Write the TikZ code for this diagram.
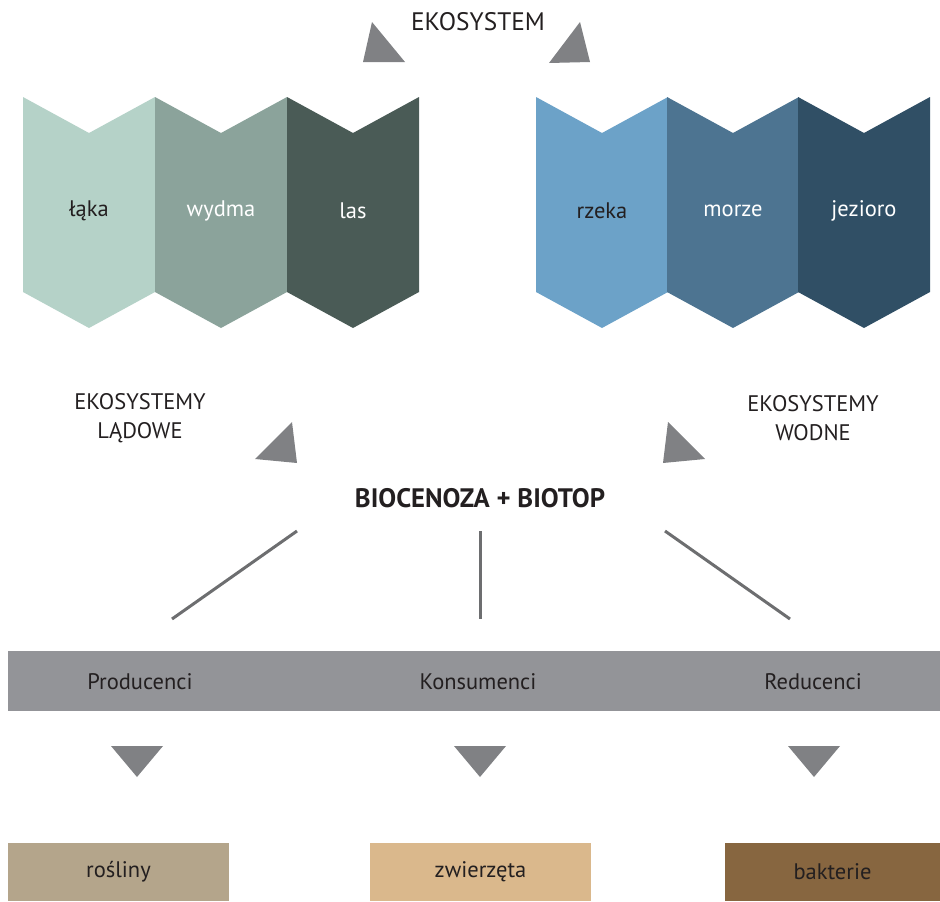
\documentclass[tikz,border=0pt]{standalone}
\usepackage{fontspec}
\setmainfont{PT Sans}
\definecolor{laka}{HTML}{B5D2C8}
\definecolor{wydma}{HTML}{8BA39B}
\definecolor{las}{HTML}{4A5B56}
\definecolor{rzeka}{HTML}{6CA2C8}
\definecolor{morze}{HTML}{4D7491}
\definecolor{jezioro}{HTML}{304F65}
\definecolor{grot}{HTML}{808184}
\definecolor{pasek}{HTML}{939498}
\definecolor{linia}{HTML}{6D6E70}
\definecolor{tekst}{HTML}{231F20}
\definecolor{rosliny}{HTML}{B4A58B}
\definecolor{zwierzeta}{HTML}{DAB88C}
\definecolor{bakterie}{HTML}{876640}
\tikzset{
  napis/.style={text=tekst, font=\fontsize{16}{21}\selectfont, align=center},
  pole/.style={napis, minimum height=58*0.025cm, inner sep=0pt}
}
\begin{document}
\begin{tikzpicture}[x=0.025cm, y=-0.025cm]
    \useasboundingbox (0,0) rectangle (940,901);
    % gora
    \node[napis, font=\fontsize{18}{21}\selectfont] (eko) at (478,22) {EKOSYSTEM};
    \fill[grot] (372,22) -- (363,62) -- (405,62) -- cycle;
    \fill[grot] (580,22) -- (590,62) -- (549,63) -- cycle;
    % ekosystemy ladowe i wodne
    \foreach \x/\c/\t/\tc [count=\i] in {23/laka/łąka/tekst, 155/wydma/wydma/white,
        287/las/las/white, 536/rzeka/rzeka/tekst, 667/morze/morze/white,
        798/jezioro/jezioro/white} {
      \fill[\c] (\x,97) -- ++(66,36) -- ++(66,-36) -- ++(0,195) -- ++(-66,36)
        -- ++(-66,-36) -- cycle;
      \node[napis, text=\tc] (s\i) at (\x+66,211) {\t};
    }
    \node[napis] (lad) at (140,418) {EKOSYSTEMY\\LĄDOWE};
    \node[napis] (woda) at (813,418) {EKOSYSTEMY\\WODNE};
    \fill[grot] (292,422) -- (255,459) -- (297,463) -- cycle;
    \fill[grot] (668,422) -- (705,459) -- (663,463) -- cycle;
    % biocenoza
    \node[napis, font=\fontsize{19}{21}\selectfont\bfseries] (bio) at (480,498)
      {BIOCENOZA + BIOTOP};
    \coordinate (l1) at (297,531); \coordinate (l2) at (172,619);
    \coordinate (m1) at (480,531); \coordinate (m2) at (480,619);
    \coordinate (r1) at (665,531); \coordinate (r2) at (790,619);
    \foreach \a/\b in {l1/l2, m1/m2, r1/r2}
      \draw[linia, line width=3*0.025cm] (\a) -- (\b);
    % pasek
    \fill[pasek] (8,651) rectangle (940,711);
    \node[napis] (prod) at (140,682) {Producenci};
    \node[napis] (kons) at (478,682) {Konsumenci};
    \node[napis] (red) at (813,682) {Reducenci};
    \foreach \x in {137,480,814}
      \fill[grot] (\x-26,746) -- (\x+26,746) -- (\x,777) -- cycle;
    % dol
    \node[pole, fill=rosliny, minimum width=221*0.025cm] (ros) at (118.5,872) {rośliny};
    \node[pole, fill=zwierzeta, minimum width=221*0.025cm] (zw) at (480.5,872) {zwierzęta};
    \node[pole, fill=bakterie, minimum width=215*0.025cm] (bak) at (832.5,872) {bakterie};
  \end{tikzpicture}
\end{document}
